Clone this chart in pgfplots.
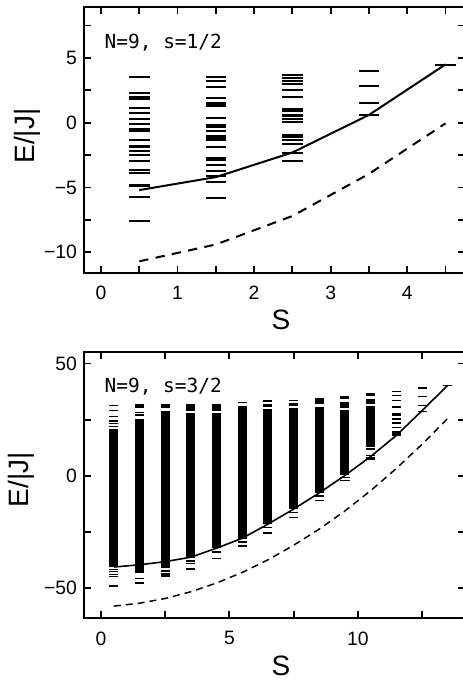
\documentclass[border=0pt]{standalone}
\usepackage{fontspec}
\setmainfont{Liberation Sans}
\newfontfamily\monofont{DejaVu Sans Mono}
\usepackage{pgfplots}
\pgfplotsset{compat=1.18}

\pgfplotsset{
  panel/.style={
    scale only axis, width=285.9pt, height=199.5pt,
    axis line style={line width=1.6pt},
    tick style={line width=1.4pt, black},
    major tick length=5.25pt, minor tick length=5.25pt,
    /pgf/number format/assume math mode=true,
    tick label style={font=\fontsize{14.5}{16}\selectfont},
    xticklabel style={yshift=-6.5pt},
    yticklabel style={xshift=-2pt},
    label style={font=\fontsize{21}{23}\selectfont},
    xlabel={S}, ylabel={E/|J|},
    xlabel style={at={(axis description cs:0.516,-0.178)}, anchor=center, inner sep=1pt},
  },
  lev/.style={only marks, mark=-, mark size=7.7pt, mark options={line width=1.5pt}},
  levs/.style={only marks, mark=-, mark size=3.4pt, mark options={line width=1.1pt}},
}

\begin{document}
\begin{tikzpicture}
\useasboundingbox (0,0) rectangle (347.25pt,511.5pt);

% N=9, s=1/2
\begin{axis}[panel, at={(63.2pt,306.75pt)}, anchor=south west,
  xmin=-0.218, xmax=4.76, ymin=-11.6, ymax=8.93,
  xtick={0,1,2,3,4}, xticklabels={0,1,2,3,4},
  minor xtick={0.5,1.5,2.5,3.5,4.5},
  ytick={-10,-5,0,5}, yticklabels={−10,−5,0,5},
  minor ytick={-7.5,-2.5,2.5,7.5},
  ylabel style={at={(axis description cs:-0.150,0.515)}, anchor=center},
]
\addplot[lev] coordinates {
  (0.5,3.51) (0.5,2.29) (0.5,1.95) (0.5,1.86) (0.5,1.13) (0.5,0.75) (0.5,0.28)
  (0.5,-0.10) (0.5,-0.46) (0.5,-0.67) (0.5,-1.31) (0.5,-1.78) (0.5,-1.90)
  (0.5,-2.22) (0.5,-2.53) (0.5,-2.99) (0.5,-3.63) (0.5,-3.89) (0.5,-4.80)
  (0.5,-4.92) (0.5,-5.70) (0.5,-7.58)
  (1.5,3.51) (1.5,3.20) (1.5,2.73) (1.5,1.91) (1.5,1.50) (1.5,1.40) (1.5,1.28)
  (1.5,0.36) (1.5,-0.18) (1.5,-0.30) (1.5,-0.67) (1.5,-1.05) (1.5,-1.17)
  (1.5,-1.30) (1.5,-1.88) (1.5,-2.75) (1.5,-2.87) (1.5,-3.25) (1.5,-3.76)
  (1.5,-4.15) (1.5,-4.54) (1.5,-5.83)
  (2.5,3.66) (2.5,3.45) (2.5,3.25) (2.5,2.99) (2.5,2.55) (2.5,1.96) (2.5,1.08)
  (2.5,0.93) (2.5,0.62) (2.5,0.52) (2.5,0.31) (2.5,0.03) (2.5,-0.93)
  (2.5,-1.13) (2.5,-1.37) (2.5,-1.65) (2.5,-2.35) (2.5,-2.99)
  (3.5,3.97) (3.5,2.81) (3.5,1.52) (3.5,0.57)
  (4.5,4.49)
};
\addplot[line width=1.5pt, mark=none] coordinates {
  (0.5,-5.2) (1.5,-4.2) (2.5,-2.3) (3.5,0.6) (4.5,4.5)
};
\addplot[line width=1.5pt, mark=none, dash pattern=on 7pt off 5.5pt] coordinates {
  (0.5,-10.7) (1.5,-9.4) (2.5,-7.2) (3.5,-3.95) (4.5,-0.05)
};
\node[anchor=base west, font=\monofont\fontsize{14.6}{16}\selectfont] at (axis cs:-0.013,5.70) {N=9, s=1/2};
\end{axis}

% N=9, s=3/2
\begin{axis}[panel, at={(63.2pt,47.8pt)}, anchor=south west,
  xmin=-0.65, xmax=14.19, ymin=-63.4, ymax=55.0,
  xtick={0,5,10}, xticklabels={0,5,10},
  minor xtick={2.5,7.5,12.5},
  ytick={-50,0,50}, yticklabels={−50,0,50},
  minor ytick={-25,25},
  ylabel style={at={(axis description cs:-0.166,0.52)}, anchor=center},
  unbounded coords=jump,
]
% dense parts of the spectrum
\addplot[line width=6.75pt, mark=none] coordinates {
  (0.5,-40.6) (0.5,20.8) (0.5,nan)
  (1.5,-43.2) (1.5,25.3) (1.5,nan)
  (2.5,-40.9) (2.5,28.7) (2.5,nan)
  (3.5,28.9) (3.5,32.0) (3.5,nan)
  (3.5,-36.5) (3.5,27.8) (3.5,nan)
  (4.5,28.8) (4.5,32.0) (4.5,nan)
  (4.5,-32.0) (4.5,27.9) (4.5,nan)
  (5.5,-28.2) (5.5,31.3) (5.5,nan)
  (6.5,32.7) (6.5,33.8) (6.5,nan)
  (6.5,30.6) (6.5,31.9) (6.5,nan)
  (6.5,-21.6) (6.5,29.8) (6.5,nan)
  (7.5,33.2) (7.5,33.9) (7.5,nan)
  (7.5,31.0) (7.5,32.2) (7.5,nan)
  (7.5,-14.9) (7.5,30.0) (7.5,nan)
  (8.5,31.8) (8.5,34.7) (8.5,nan)
  (8.5,-7.7) (8.5,30.8) (8.5,nan)
  (9.5,34.0) (9.5,35.6) (9.5,nan)
  (9.5,30.3) (9.5,33.0) (9.5,nan)
  (9.5,0.3) (9.5,29.3) (9.5,nan)
  (10.5,35.7) (10.5,36.9) (10.5,nan)
  (10.5,32.0) (10.5,34.0) (10.5,nan)
  (10.5,13.0) (10.5,31.3) (10.5,nan)
  (11.5,30.1) (11.5,31.3) (11.5,nan)
  (11.5,26.8) (11.5,28.0) (11.5,nan)
  (11.5,23.1) (11.5,24.1) (11.5,nan)
  (11.5,17.9) (11.5,20.1)
};
% isolated levels
\addplot[levs] coordinates {
  (0.5,31.3) (0.5,29.0) (0.5,26.5) (0.5,24.5) (0.5,23.4) (0.5,22.0)
  (0.5,-41.8) (0.5,-42.6) (0.5,-44.0) (0.5,-44.7) (0.5,-49.1)
  (1.5,31.8) (1.5,31.0) (1.5,30.4) (1.5,28.3) (1.5,27.0) (1.5,-45.8) (1.5,-47.6)
  (2.5,31.8) (2.5,31.1) (2.5,30.4) (2.5,-42.4) (2.5,-43.6) (2.5,-44.6)
  (3.5,-37.9) (3.5,-39.1) (3.5,-41.4)
  (4.5,-33.9) (4.5,-36.8)
  (5.5,32.7) (5.5,-29.4) (5.5,-31.2)
  (6.5,-23.1) (6.5,-25.4)
  (7.5,-16.4) (7.5,-18.6)
  (8.5,-8.9) (8.5,-10.9)
  (9.5,-0.7) (9.5,-2.0)
  (10.5,11.9) (10.5,9.0) (10.5,8.2) (10.5,7.4)
  (11.5,37.5) (11.5,35.7) (11.5,33.5) (11.5,25.3) (11.5,21.6)
  (12.5,39.0) (12.5,35.2) (12.5,31.2) (12.5,28.6)
  (13.5,40.3)
};
\addplot[line width=1.2pt, mark=none] coordinates {
  (0.5,-40.6) (1.5,-39.6) (2.5,-38.2) (3.5,-36.2) (4.5,-32.2) (5.5,-27.8)
  (6.5,-21.5) (7.5,-14.8) (8.5,-7.6) (9.5,0.2) (10.5,8.6) (11.5,18.0)
  (12.5,29.0) (13.5,40.3)
};
\addplot[line width=1.1pt, mark=none, dash pattern=on 5.25pt off 3.75pt] coordinates {
  (0.5,-58.0) (1.5,-56.7) (2.5,-54.6) (3.5,-51.6) (4.5,-47.7) (5.5,-43.0)
  (6.5,-37.4) (7.5,-30.9) (8.5,-23.7) (9.5,-15.6) (10.5,-6.6) (11.5,3.3)
  (12.5,14.0) (13.5,25.6)
};
\node[anchor=base west, font=\monofont\fontsize{14.6}{16}\selectfont] at (axis cs:-0.04,37.3) {N=9, s=3/2};
\end{axis}
\end{tikzpicture}
\end{document}
